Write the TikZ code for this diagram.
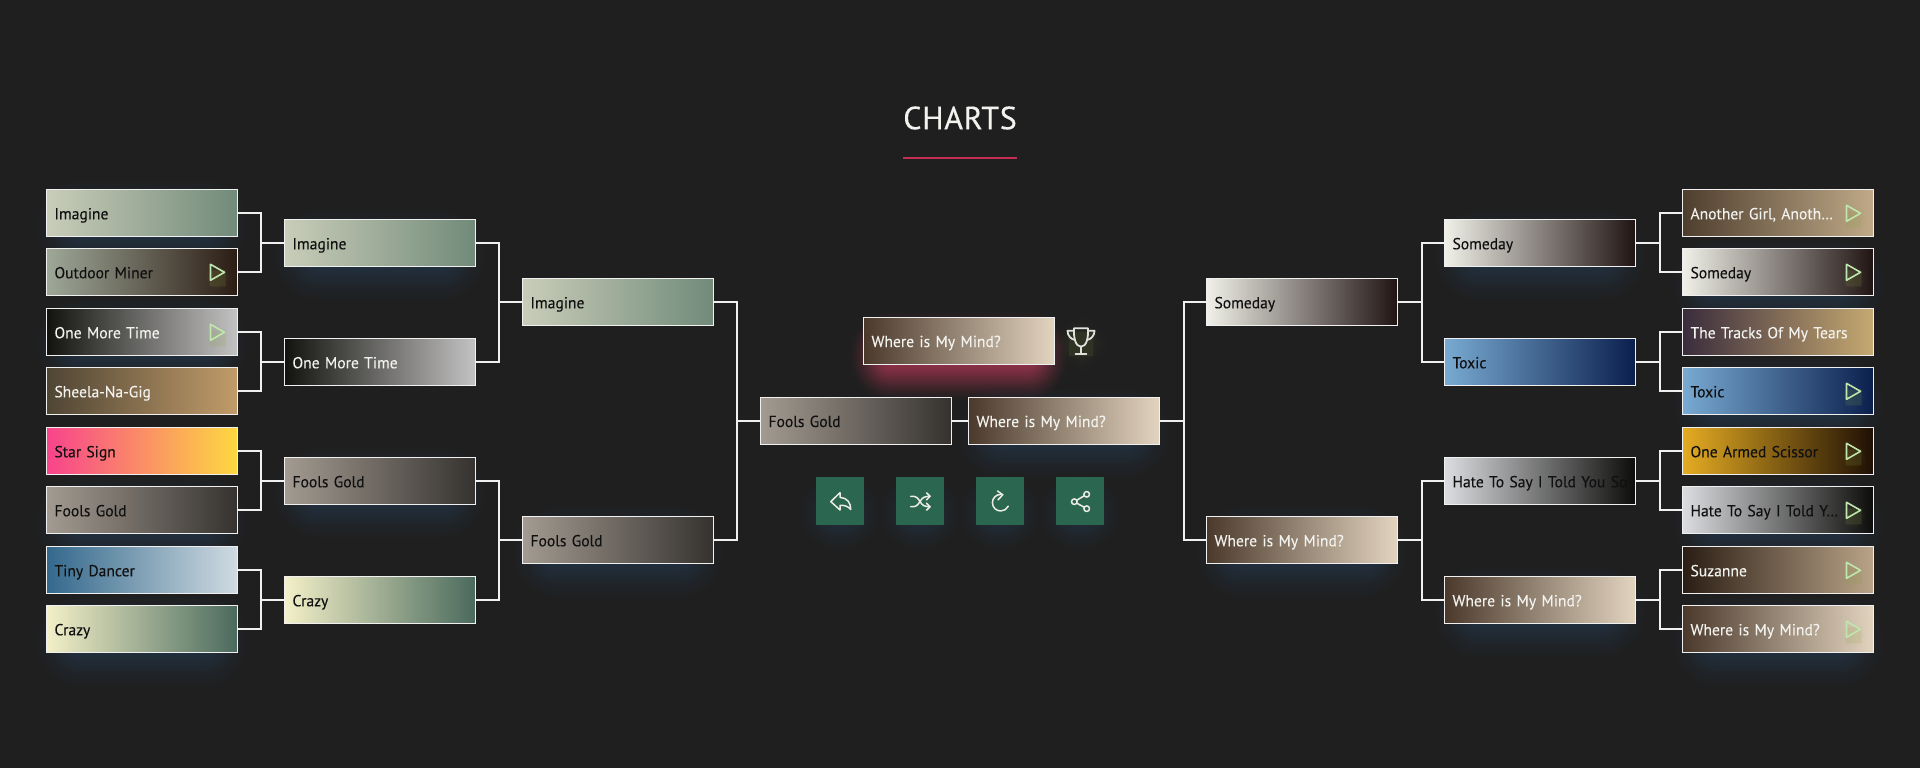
\documentclass[tikz,border=0pt]{standalone}
\usepackage{fontspec}
\usetikzlibrary{fadings}
\setmainfont{PT Sans}
\newfontfamily\tilefont[FakeStretch=0.975,FakeBold=0.12]{PT Sans}
\newfontfamily\titlefont[LetterSpace=2.0,FakeBold=0.35]{PT Sans}
\definecolor{bgc}{HTML}{1F1F1F}
\definecolor{edgec}{HTML}{F0F0F0}
\definecolor{ink}{HTML}{101010}
\definecolor{pale}{HTML}{F2F2EE}
\definecolor{playc}{HTML}{BFE6AC}
\definecolor{btnc}{HTML}{2A6650}
\definecolor{iconc}{HTML}{ECECE6}
\definecolor{blueglow}{HTML}{2A5888}
\definecolor{pinkglow}{HTML}{BE3A5A}
\definecolor{oliveglow}{HTML}{88A040}
\definecolor{rulec}{HTML}{C52D52}
\tikzset{
  tile/.style={draw=edgec,line width=1pt,minimum width=191pt,minimum height=47pt,
    text width=175pt,inner xsep=8pt,inner ysep=0pt,align=left,
    text height=14pt,text depth=2pt,font=\tilefont\fontsize{16}{18}\selectfont},
  link/.style={draw=edgec,line width=2pt},
  playmark/.style={draw=playc,line width=1.6pt,line join=round},
  btn/.style={fill=btnc,minimum width=48pt,minimum height=48pt,inner sep=0pt},
  glyph/.style={draw=iconc,line width=1.5pt,line cap=round,line join=round},
  cupline/.style={glyph,line width=1.8pt,draw=iconc!90!gray},
}
\definecolor{imA}{HTML}{C9CDB9}\definecolor{imB}{HTML}{718A79}
\definecolor{omA}{HTML}{9FA898}\definecolor{omB}{HTML}{2B1C14}
\definecolor{otA}{HTML}{12120E}\definecolor{otB}{HTML}{C4C3C3}
\definecolor{shA}{HTML}{4F4534}\definecolor{shB}{HTML}{C29C6A}
\definecolor{ssA}{HTML}{F8438C}\definecolor{ssB}{HTML}{FDD940}
\definecolor{fgA}{HTML}{A39B91}\definecolor{fgB}{HTML}{35322F}
\definecolor{tdA}{HTML}{33688C}\definecolor{tdB}{HTML}{D0DBE2}
\definecolor{crA}{HTML}{F3F0C8}\definecolor{crB}{HTML}{4A6A5D}
\definecolor{agA}{HTML}{4E3E2E}\definecolor{agB}{HTML}{C0AA88}
\definecolor{sdA}{HTML}{F0F0E8}\definecolor{sdB}{HTML}{201413}
\definecolor{ttA}{HTML}{3A2C3C}\definecolor{ttB}{HTML}{C6A971}
\definecolor{txA}{HTML}{78AAD2}\definecolor{txB}{HTML}{0B1F4D}
\definecolor{oaA}{HTML}{E5AC22}\definecolor{oaB}{HTML}{1E0F05}
\definecolor{htA}{HTML}{DCDDE0}\definecolor{htB}{HTML}{0C0C0A}
\definecolor{szA}{HTML}{2A1D14}\definecolor{szB}{HTML}{BAA488}
\definecolor{wmA}{HTML}{4B3A2C}\definecolor{wmB}{HTML}{E3D4C0}
% fading: name, half width, half height of the core, extent
\newcommand\makefade[4]{%
\begin{tikzfadingfrompicture}[name=#1,x=1pt,y=1pt]
  \fill[transparent!100] ({-#2-#4-2},{-#3-#4-2}) rectangle ({#2+#4+2},{#3+#4+2});
  \foreach \k in {0,...,23}{%
    \pgfmathsetmacro\e{#4*(1-2*\k/23)}%
    \pgfmathsetmacro\rr{max(#4+\e,0.1)}%
    \pgfmathsetmacro\tt{(\k+1)/24}%
    \pgfmathsetmacro\pp{100*(1-\tt*\tt*(3-2*\tt))}%
    \fill[transparent!\pp,rounded corners=\rr pt] ({-#2-\e},{-#3-\e}) rectangle ({#2+\e},{#3+\e});
  }
\end{tikzfadingfrompicture}}
\makefade{softbox}{86}{26}{25}
\makefade{softpink}{90}{25}{22}
\makefade{softbtn}{24}{22}{20}
\makefade{softspot}{10}{10}{22}
\makefade{softplay}{4}{4}{12}
% fading name, centre x, centre y, half width, half height, colour, alpha
\newcommand\glowat[7]{\fill[#6,opacity=#7,path fading=#1,fit fading=false,fading transform={shift={(#2,#3)}}] ({#2-#4},{#3-#5}) rectangle ({#2+#4},{#3+#5});}
\newcommand\winglow[2]{\glowat{softbox}{#1}{#2+12}{113}{53}{blueglow}{0.32}}
\newcommand\tileat[6]{\node[tile,left color=#4A,right color=#4B,text=#5] (#1) at (#2,#3) {\mbox{#6}};}
\newcommand\playon[1]{%
  \path ([xshift=-20.5pt,yshift=-6pt]#1.east) coordinate (spot);
  \fill[oliveglow,opacity=0.18,path fading=softplay,fit fading=false,fading transform={shift={(spot)}}] ([xshift=-18pt,yshift=-18pt]spot) rectangle ([xshift=18pt,yshift=18pt]spot);
  \draw[playmark] ([xshift=-27.5pt,yshift=8pt]#1.east) -- ([xshift=-13.5pt]#1.east) -- ([xshift=-27.5pt,yshift=-8pt]#1.east) -- cycle;}
\begin{document}
\begin{tikzpicture}[x=1pt,y=-1pt]
\fill[bgc] (0,0) rectangle (1920,768);
\useasboundingbox (0,0) rectangle (1920,768);
% title
\node[text=pale,font=\titlefont\fontsize{32}{36}\selectfont,inner sep=0pt] (title) at (960,118) {CHARTS};
\fill[rulec] (903,157) rectangle (1017,159);
% glows
\winglow{142}{213.3}\winglow{142}{332.3}\winglow{142}{510.3}\winglow{142}{629.3}
\winglow{380}{243.3}\winglow{380}{481.3}\winglow{618}{540.3}
\winglow{1064}{421}
\winglow{1302}{540.3}\winglow{1540}{243.3}\winglow{1540}{600.3}
\winglow{1778}{272.3}\winglow{1778}{391.3}\winglow{1778}{510.3}\winglow{1778}{629.3}
\glowat{softpink}{959}{356}{114}{49}{pinkglow}{0.72}
\foreach \bx in {840,920,1000,1080}{\glowat{softbtn}{\bx}{513}{46}{44}{blueglow}{0.26}}
\glowat{softspot}{1081}{344}{34}{34}{oliveglow}{0.16}
% left
\tileat{a1}{142}{213.3}{im}{ink}{Imagine}
\tileat{a2}{142}{272.3}{om}{ink}{Outdoor Miner}
\tileat{a3}{142}{332.3}{ot}{pale}{One More Time}
\tileat{a4}{142}{391.3}{sh}{pale}{Sheela-Na-Gig}
\tileat{a5}{142}{451.3}{ss}{ink}{Star Sign}
\tileat{a6}{142}{510.3}{fg}{ink}{Fools Gold}
\tileat{a7}{142}{570.3}{td}{ink}{Tiny Dancer}
\tileat{a8}{142}{629.3}{cr}{ink}{Crazy}
\tileat{b1}{380}{243.3}{im}{ink}{Imagine}
\tileat{b2}{380}{362.3}{ot}{pale}{One More Time}
\tileat{b3}{380}{481.3}{fg}{ink}{Fools Gold}
\tileat{b4}{380}{600.3}{cr}{ink}{Crazy}
\tileat{c1}{618}{302.3}{im}{ink}{Imagine}
\tileat{c2}{618}{540.3}{fg}{ink}{Fools Gold}
% centre
\tileat{dl}{856}{421}{fg}{ink}{Fools Gold}
\tileat{dr}{1064}{421}{wm}{pale}{Where is My Mind?}
\tileat{win}{959}{341}{wm}{pale}{Where is My Mind?}
% right
\tileat{e1}{1302}{302.3}{sd}{ink}{Someday}
\tileat{e2}{1302}{540.3}{wm}{pale}{Where is My Mind?}
\tileat{f1}{1540}{243.3}{sd}{ink}{Someday}
\tileat{f2}{1540}{362.3}{tx}{ink}{Toxic}
\tileat{f3}{1540}{481.3}{ht}{ink}{Hate To Say I Told You So}
\tileat{f4}{1540}{600.3}{wm}{pale}{Where is My Mind?}
\tileat{g1}{1778}{213.3}{ag}{pale}{Another Girl, Anoth…}
\tileat{g2}{1778}{272.3}{sd}{ink}{Someday}
\tileat{g3}{1778}{332.3}{tt}{pale}{The Tracks Of My Tears}
\tileat{g4}{1778}{391.3}{tx}{ink}{Toxic}
\tileat{g5}{1778}{451.3}{oa}{ink}{One Armed Scissor}
\tileat{g6}{1778}{510.3}{ht}{ink}{Hate To Say I Told Y…}
\tileat{g7}{1778}{570.3}{sz}{pale}{Suzanne}
\tileat{g8}{1778}{629.3}{wm}{pale}{Where is My Mind?}
% connectors
\foreach \p/\q in {a1/b1,a2/b1,a3/b2,a4/b2,a5/b3,a6/b3,a7/b4,a8/b4,b1/c1,b2/c1,b3/c2,b4/c2,c1/dl,c2/dl}{
  \draw[link] (\p.east) -- ++(22.5,0) |- (\q.west);}
\draw[link] (dl.east) -- (dr.west);
\foreach \p/\q in {g1/f1,g2/f1,g3/f2,g4/f2,g5/f3,g6/f3,g7/f4,g8/f4,f1/e1,f2/e1,f3/e2,f4/e2,e1/dr,e2/dr}{
  \draw[link] (\p.west) -- ++(-22.5,0) |- (\q.east);}
% play marks
\foreach \n in {a2,a3,g1,g2,g4,g5,g6,g7,g8}{\playon{\n}}
% trophy
\draw[cupline] (1074,328.3) -- (1088,328.3) .. controls (1088.5,338) and (1086.5,346.5) .. (1081,346.7) .. controls (1075.5,346.5) and (1073.5,338) .. (1074,328.3);
\draw[cupline] (1074,330.7) -- (1067.5,330.7) .. controls (1067.5,335.5) and (1070.5,339) .. (1075,340);
\draw[cupline] (1088,330.7) -- (1094.5,330.7) .. controls (1094.5,335.5) and (1091.5,339) .. (1087,340);
\draw[cupline] (1081,346.7) -- (1081,354) (1075.5,354) -- (1086.5,354);
% buttons
\node[btn] (bback) at (840,501) {};
\node[btn] (bmix) at (920,501) {};
\node[btn] (bredo) at (1000,501) {};
\node[btn] (bshare) at (1080,501) {};
% reply
\draw[glyph] (840,492.7) -- (830.8,501.6) -- (840,510) -- (840,505.4) .. controls (844.5,505) and (848.5,506.5) .. (850.7,509.5) .. controls (851,503) and (847,497.6) .. (840,497.4) -- cycle;
% shuffle
\draw[glyph] (910.7,496.3) .. controls (917,496) and (917.5,498) .. (920,501.5) .. controls (922.5,505.5) and (924,506.7) .. (930,506.7);
\draw[glyph] (910.7,506.7) .. controls (917,507) and (917.5,505) .. (920,501.5) .. controls (922.5,497.5) and (924,496.3) .. (930,496.3);
\draw[glyph] (926.5,492.8) -- (930,496.3) -- (926.5,499.8);
\draw[glyph] (926.5,503.2) -- (930,506.7) -- (926.5,510.2);
% redo
\draw[glyph] (1000.7,494.4) arc[start angle=-90,end angle=-335,radius=8.3];
\draw[glyph] (997.5,491) -- (1002.8,494.8) -- (998,499.8);
% share
\draw[glyph] (1076.7,500.3) -- (1084.3,495.7) (1076.7,503.1) -- (1084.3,507.3);
\draw[glyph] (1086.7,494.3) circle[radius=2.8pt] (1074.3,501.7) circle[radius=2.8pt] (1086.7,508.7) circle[radius=2.8pt];
\end{tikzpicture}
\end{document}
